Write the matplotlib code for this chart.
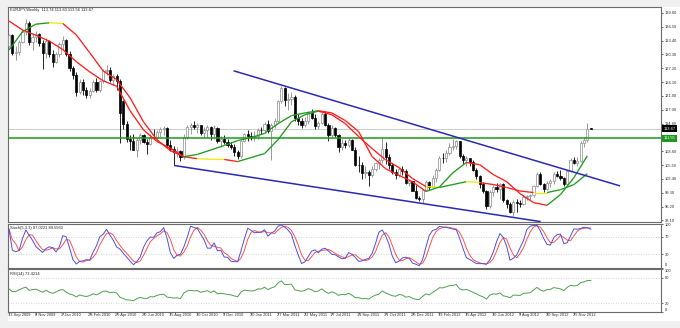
import numpy as np
import pandas as pd
import matplotlib
matplotlib.use("Agg")
import matplotlib.pyplot as plt
import matplotlib.transforms as mtransforms
from matplotlib.collections import LineCollection
from matplotlib.patches import Rectangle

# ---- weekly EURJPY candles (13 Sep 2009 .. 30 Dec 2012) ----
opens = [132.3, 134.6, 130.6, 130.9, 133.2, 135.4, 137.4, 133.0, 134.3, 134.8,
         132.8, 130.6, 133.3, 130.3, 128.7, 130.4, 132.7, 133.6, 130.3, 127.2,
         125.6, 121.8, 124.1, 122.4, 121.2, 122.2, 124.2, 122.4, 124.3, 126.6,
         126.8, 124.6, 125.4, 124.3, 119.8, 114.8, 111.3, 111.0, 109.0, 111.1,
         112.2, 110.7, 110.3, 111.9, 111.5, 112.9, 113.6, 113.9, 110.0, 109.1,
         108.4, 108.6, 107.4, 111.9, 114.0, 114.5, 114.1, 114.4, 112.7, 113.3,
         114.1, 112.4, 113.8, 110.8, 111.3, 110.6, 110.0, 109.6, 108.5, 107.5,
         110.9, 112.5, 112.1, 111.8, 112.0, 113.4, 113.3, 114.8, 113.2, 114.5,
         115.5, 119.8, 122.9, 120.2, 120.4, 120.8, 116.1, 115.3, 114.6, 115.4,
         117.2, 116.1, 114.3, 114.9, 117.0, 114.5, 112.3, 113.9, 112.3, 109.6,
         110.4, 110.0, 111.2, 109.0, 105.6, 105.5, 103.8, 104.0, 103.2, 104.7,
         105.9, 106.6, 109.2, 107.3, 105.6, 104.0, 103.3, 104.6, 104.1, 101.5,
         101.9, 99.8, 98.1, 97.9, 99.9, 101.8, 100.6, 102.6, 104.5, 107.2,
         107.0, 108.2, 109.6, 109.8, 110.9, 107.6, 106.6, 107.0, 106.1, 104.5,
         103.1, 101.2, 99.6, 96.4, 99.5, 100.6, 100.2, 101.2, 97.8, 96.8,
         95.1, 97.2, 97.0, 96.8, 98.4, 98.6, 98.8, 100.9, 103.5, 101.3,
         100.2, 101.6, 101.9, 103.5, 103.1, 102.6, 101.3, 104.1, 106.6, 106.0,
         106.5, 110.4, 111.1, 113.74]
highs = [135.0, 135.0, 132.2, 133.6, 136.0, 138.3, 137.8, 135.2, 135.6, 135.2,
         133.5, 134.0, 133.5, 131.3, 130.8, 133.0, 134.4, 133.8, 131.0, 127.8,
         126.4, 124.7, 124.9, 123.1, 122.7, 124.6, 125.0, 124.6, 127.1, 127.9,
         127.5, 126.0, 126.0, 124.9, 120.2, 115.5, 112.2, 112.5, 111.5, 112.6,
         112.5, 111.3, 112.5, 113.6, 113.3, 114.0, 114.3, 114.1, 111.2, 109.9,
         109.6, 109.0, 112.4, 114.5, 115.0, 115.5, 114.9, 114.6, 114.0, 114.4,
         114.2, 114.4, 114.0, 112.0, 112.3, 111.3, 110.6, 110.3, 108.9, 111.2,
         112.7, 113.3, 113.0, 113.2, 113.8, 114.0, 115.2, 115.6, 115.0, 116.0,
         120.2, 123.3, 123.1, 121.6, 121.8, 121.2, 117.0, 116.0, 116.2, 117.6,
         118.0, 116.9, 115.4, 117.4, 117.6, 114.9, 114.5, 114.1, 112.5, 111.3,
         111.1, 111.5, 111.4, 109.6, 107.5, 106.2, 105.3, 104.4, 105.2, 106.2,
         107.2, 111.6, 110.7, 107.9, 106.0, 104.6, 105.0, 105.3, 104.6, 102.2,
         102.0, 101.0, 98.6, 100.2, 102.1, 101.9, 103.4, 104.8, 107.6, 108.2,
         108.8, 110.5, 111.4, 111.2, 111.0, 108.0, 107.6, 107.2, 106.6, 104.8,
         103.3, 101.7, 100.0, 100.0, 101.0, 101.5, 101.5, 101.6, 98.0, 97.3,
         97.6, 98.0, 97.7, 98.7, 98.9, 99.0, 101.0, 103.9, 103.9, 101.6,
         102.0, 102.3, 103.9, 104.2, 104.4, 102.9, 104.4, 107.0, 107.3, 107.3,
         110.9, 111.9, 115.0, 113.80]
lows = [131.9, 130.2, 129.0, 130.2, 132.8, 134.6, 132.5, 131.4, 133.0, 132.2,
        127.0, 129.6, 129.8, 127.4, 128.3, 129.8, 131.4, 129.9, 126.5, 124.7,
        120.9, 121.4, 121.3, 120.5, 120.5, 121.9, 121.8, 121.9, 123.8, 125.6,
        124.2, 123.4, 122.4, 110.5, 113.6, 110.6, 108.9, 108.8, 107.3, 110.3,
        110.4, 108.0, 110.0, 111.3, 110.8, 111.7, 112.3, 109.4, 108.6, 105.5,
        107.3, 106.4, 106.9, 111.3, 112.4, 113.5, 112.6, 112.2, 111.9, 111.9,
        111.2, 111.4, 110.4, 109.5, 110.2, 109.5, 109.1, 107.6, 106.9, 107.2,
        110.6, 111.0, 111.1, 110.9, 111.4, 112.4, 113.0, 112.7, 106.6, 113.9,
        115.2, 119.4, 118.8, 117.9, 118.9, 115.4, 114.6, 113.8, 114.1, 114.8,
        115.8, 113.6, 113.5, 114.7, 114.2, 110.9, 111.5, 111.8, 108.5, 108.9,
        109.4, 109.6, 108.8, 105.2, 103.9, 102.3, 102.6, 100.8, 102.8, 104.3,
        104.6, 106.0, 105.7, 104.6, 103.6, 102.3, 102.8, 103.2, 101.2, 100.9,
        99.6, 98.0, 97.4, 97.0, 99.6, 99.9, 100.3, 101.8, 104.2, 106.0,
        106.3, 107.8, 108.8, 109.2, 107.2, 105.7, 105.4, 105.4, 104.3, 102.4,
        100.4, 99.3, 95.6, 96.0, 98.5, 99.5, 97.9, 97.2, 96.0, 94.7,
        94.2, 94.9, 96.1, 96.6, 97.6, 97.7, 98.3, 100.6, 101.0, 99.4,
        99.9, 100.6, 101.3, 102.8, 102.1, 100.8, 100.9, 103.9, 105.7, 105.4,
        106.3, 109.6, 110.6, 113.56]
closes = [134.6, 130.6, 130.9, 133.2, 135.4, 137.4, 133.0, 134.3, 134.8, 132.8,
          130.6, 133.3, 130.3, 128.7, 130.4, 132.7, 133.6, 130.3, 127.2, 125.6,
          121.8, 124.1, 122.4, 121.2, 122.2, 124.2, 122.4, 124.3, 126.6, 126.8,
          124.6, 125.4, 124.3, 117.2, 114.8, 111.3, 111.0, 109.0, 111.1, 112.2,
          110.7, 110.3, 111.9, 111.5, 112.9, 113.6, 113.9, 110.0, 109.1, 108.4,
          108.6, 107.4, 111.9, 114.0, 114.5, 114.1, 114.4, 112.7, 113.3, 114.1,
          112.4, 113.8, 110.8, 111.3, 110.6, 110.0, 109.6, 108.5, 107.5, 110.9,
          112.5, 112.1, 111.8, 112.0, 113.4, 113.3, 114.8, 113.2, 114.5, 115.5,
          119.8, 122.9, 120.2, 120.4, 120.8, 116.1, 115.3, 114.6, 115.4, 117.2,
          116.1, 114.3, 114.9, 117.0, 114.5, 112.3, 113.9, 112.3, 109.6, 110.4,
          110.0, 111.2, 109.0, 105.6, 105.5, 103.8, 104.0, 103.2, 104.7, 105.9,
          106.6, 109.2, 107.3, 105.6, 104.0, 103.3, 104.6, 104.1, 101.5, 101.9,
          99.8, 98.1, 97.9, 99.9, 101.8, 100.6, 102.6, 104.5, 107.2, 107.0,
          108.2, 109.6, 109.8, 110.9, 107.6, 106.6, 107.0, 106.1, 104.5, 103.1,
          101.2, 99.6, 96.4, 99.5, 100.6, 100.2, 101.2, 97.8, 96.8, 95.1,
          97.2, 97.0, 96.8, 98.4, 98.6, 98.8, 100.9, 103.5, 101.3, 100.2,
          101.6, 101.9, 103.5, 103.1, 102.6, 101.3, 104.1, 106.6, 106.0, 106.5,
          110.4, 111.1, 113.6, 113.67]

# ---- colour-coded moving averages, one value every 4 weeks ----
ma_step = 4
ma_fast = [137.8, 135.8, 134.6, 133.3, 131.4, 128.7, 126.4, 124.4, 123.2, 117.7,
           113.4, 110.8, 109.3, 107.4, 107.9, 108.9, 109.9, 111.0, 111.7, 112.6,
           114.8, 116.6, 117.2, 117.7, 117.2, 115.5, 113.0, 107.4, 104.7, 103.2,
           101.8, 99.6, 100.6, 103.8, 106.1, 105.6, 103.4, 101.8, 99.1, 97.1,
           96.5, 98.9, 102.7, 107.6]
ma_slow = [131.3, 135.4, 137.1, 137.4, 137.25, 134.7, 130.7, 126.6, 124.7, 120.6,
           115.2, 111.2, 108.75, 107.4, 106.95, 106.8, 106.78, 106.3, 107.2, 108.1,
           111.2, 115.2, 116.8, 117.6, 116.8, 114.8, 111.9, 109.2, 106.7, 104.95,
           102.5, 100.7, 100.5, 101.15, 101.8, 101.6, 101.15, 100.5, 99.7, 99.36,
           99.36, 100.0, 101.15, 103.6]

# ---- drawn objects: channel, support level, current bid ----
channel_top_bars = [67, 181.5]
channel_top_prices = [126.6, 100.9]
channel_bottom_bars = [49.3, 157.9]
channel_bottom_prices = [105.4, 92.87]
support_level = 111.55
bid_price = 113.67

price_ticks = [139.60, 136.50, 133.40, 130.30, 127.20, 124.10, 121.00, 117.90,
               114.80, 111.70, 108.60, 105.50, 102.40, 99.30, 96.20, 93.10]
date_labels = ["13 Sep 2009", "8 Nov 2009", "3 Jan 2010", "28 Feb 2010",
               "25 Apr 2010", "20 Jun 2010", "15 Aug 2010", "10 Oct 2010",
               "5 Dec 2010", "30 Jan 2011", "27 Mar 2011", "22 May 2011",
               "17 Jul 2011", "11 Sep 2011", "31 Oct 2011", "26 Dec 2011",
               "19 Feb 2012", "15 Apr 2012", "10 Jun 2012", "5 Aug 2012",
               "30 Sep 2012", "25 Nov 2012"]
date_label_bars = list(range(0, 8 * len(date_labels), 8))

# ---- indicators ----
o = np.array(opens)
h = np.array(highs)
l = np.array(lows)
c = np.array(closes)
n = len(c)
xb = np.arange(n)

hh = pd.Series(h).rolling(5, min_periods=1).max()
ll = pd.Series(l).rolling(5, min_periods=1).min()
num = (pd.Series(c) - ll).rolling(3, min_periods=1).sum()
den = (hh - ll).rolling(3, min_periods=1).sum()
stoch_main = (100 * num / den).to_numpy()
stoch_signal = pd.Series(stoch_main).rolling(3, min_periods=1).mean().to_numpy()

prev_close = np.concatenate([[o[0]], c[:-1]])
delta = c - prev_close
gain = np.clip(delta, 0, None)
loss = np.clip(-delta, 0, None)
avg_g = avg_l = np.abs(delta[:14]).mean() / 2
rsi = []
for g, ls in zip(gain, loss):
    avg_g = (avg_g * 13 + g) / 14
    avg_l = (avg_l * 13 + ls) / 14
    rsi.append(100 * avg_g / (avg_g + avg_l))
rsi = np.array(rsi)

# ---- layout in pixels ----
W, H = 680, 328
FS = 2.9
plt.rcParams["font.family"] = ["Liberation Sans", "DejaVu Sans"]


def fx(px):
    return px / W


def fy(py):
    return 1 - py / H


fig = plt.figure(figsize=(W / 100, H / 100), dpi=100, facecolor="#f0f0f0")
fig.patches.append(Rectangle((fx(8), fy(321)), 1 - fx(8), fy(7) - fy(321),
                             transform=fig.transFigure, facecolor="white",
                             edgecolor="none", zorder=-10))

left, right = 8, 661
ax = fig.add_axes([fx(left), fy(222), fx(right) - fx(left), fy(7) - fy(222)])
ax_st = fig.add_axes([fx(left), fy(267.5), fx(right) - fx(left), fy(223.5) - fy(267.5)])
ax_rs = fig.add_axes([fx(left), fy(312), fx(right) - fx(left), fy(269) - fy(312)])

xlim = (-0.3, 193.9)
for a in (ax, ax_st, ax_rs):
    a.set_zorder(5)
    a.set_xlim(*xlim)
    a.set_facecolor("white")
    for s in a.spines.values():
        s.set_color("#6a6a6a")
        s.set_linewidth(0.8)
    a.yaxis.tick_right()
    a.tick_params(axis="y", length=1.5, width=0.5, pad=1.2, labelsize=FS,
                  colors="#303030")
    a.tick_params(axis="x", length=0, labelbottom=False)

# ---- main price panel ----
ax.set_ylim(92.76, 140.94)
ax.axhline(bid_price, color="#c4c4c4", lw=0.6, zorder=1)
ax.axhline(support_level, color="#1c9a1c", lw=1.1, zorder=4)

up = c >= o
wick_col = np.where(up, "#8a8a8a", "#000000")
ax.vlines(xb, l, h, colors=wick_col, lw=0.6, zorder=2)
body_lo = np.minimum(o, c)
body_h = np.maximum(np.abs(c - o), 0.05)
ax.bar(xb[up], body_h[up], bottom=body_lo[up], width=0.64, facecolor="white",
       edgecolor="#8a8a8a", linewidth=0.5, zorder=3)
ax.bar(xb[~up], body_h[~up], bottom=body_lo[~up], width=0.64, facecolor="black",
       edgecolor="black", linewidth=0.5, zorder=3)


def colored_ma(values):
    vals = np.asarray(values, dtype=float)
    bars = np.arange(len(vals)) * ma_step
    pts = np.column_stack([bars, vals])
    segs = np.stack([pts[:-1], pts[1:]], axis=1)
    slope = np.diff(vals) / ma_step
    cols = np.where(slope > 0.06, "#1f9a1f",
                    np.where(slope < -0.06, "#ff1e1e", "#ecec10"))
    ax.add_collection(LineCollection(segs, colors=cols, linewidths=0.95, zorder=5))


colored_ma(ma_slow)
colored_ma(ma_fast)

ax.plot(channel_top_bars, channel_top_prices, color="#2a2ab0", lw=1.1, zorder=6)
ax.plot(channel_bottom_bars, channel_bottom_prices, color="#2a2ab0", lw=1.1, zorder=6)

ax.set_yticks(price_ticks)
ax.set_yticklabels([f"{v:.2f}" for v in price_ticks])

blend = mtransforms.blended_transform_factory(ax.transAxes, ax.transData)
box_x = 1 + 2.5 / (right - left)
ax.text(box_x, support_level, f"{support_level:.2f}", transform=blend, fontsize=FS,
        color="white", va="center", ha="left", clip_on=False, zorder=10,
        bbox=dict(boxstyle="square,pad=0.35", fc="#1c9a1c", ec="none"))
ax.text(box_x, bid_price, f"{bid_price:.2f}", transform=blend, fontsize=FS,
        color="white", va="center", ha="left", clip_on=False, zorder=10,
        bbox=dict(boxstyle="square,pad=0.35", fc="black", ec="none"))

fig.text(fx(10), fy(10.5), "EURJPY,Weekly  %.2f %.2f %.2f %.2f"
         % (opens[-1], highs[-1], lows[-1], closes[-1]),
         fontsize=FS, color="#202020", va="center", ha="left", zorder=20)

# ---- stochastic panel ----
ax_st.set_ylim(0, 100)
for lvl in (70, 30):
    ax_st.axhline(lvl, color="#c8c8c8", lw=0.6, ls=(0, (1, 2)), zorder=1)
ax_st.plot(xb, stoch_main, color="#4f4fdc", lw=0.7, zorder=3)
ax_st.plot(xb, stoch_signal, color="#ff5252", lw=0.7, zorder=2)
ax_st.set_yticks([100, 70, 30, 0])
ax_st.set_yticklabels(["100", "70", "30", "0"])
fig.text(fx(10), fy(227.5), "Stoch(5,3,3) %.4f %.4f" % (stoch_main[-1], stoch_signal[-1]),
         fontsize=FS, color="#202020", va="center", ha="left", zorder=20)

# ---- RSI panel ----
ax_rs.set_ylim(0, 100)
for lvl in (80, 20):
    ax_rs.axhline(lvl, color="#c8c8c8", lw=0.6, ls=(0, (1, 2)), zorder=1)
ax_rs.plot(xb, rsi, color="#4f9f4f", lw=0.7, zorder=3)
ax_rs.set_yticks([100, 80, 20, 0])
ax_rs.set_yticklabels(["100", "80", "20", "0"])
fig.text(fx(10), fy(274), "RSI(14) %.4f" % rsi[-1],
         fontsize=FS, color="#202020", va="center", ha="left", zorder=20)

for a in (ax_st, ax_rs):
    labs = a.get_yticklabels()
    labs[0].set_va("top")
    labs[-1].set_va("bottom")

# ---- date axis ----
for b, lab in zip(date_label_bars, date_labels):
    ax_rs.text(b - 0.4, -2.5, lab, fontsize=FS, color="#303030", ha="left",
               va="top", transform=ax_rs.transData, clip_on=False)
    ax_rs.plot([b, b], [0, -4], color="#505050", lw=0.5, clip_on=False)

fig.savefig("out.png", dpi=100, facecolor=fig.get_facecolor())
